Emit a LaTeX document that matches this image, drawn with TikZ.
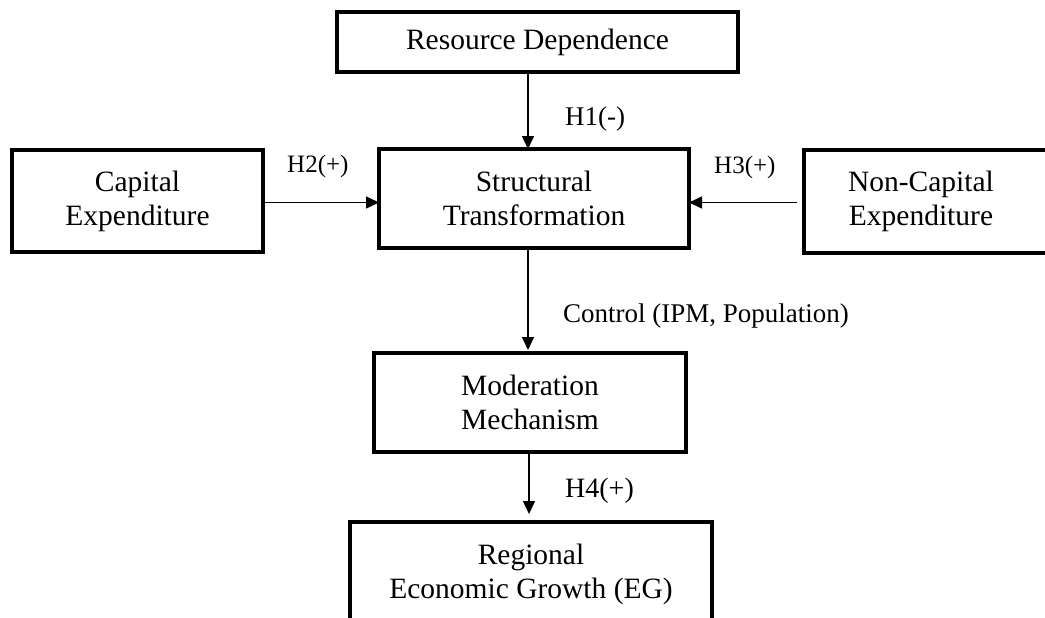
\documentclass[tikz,border=0pt]{standalone}
\usepackage{fontspec}
\setmainfont{Liberation Serif}
\usetikzlibrary{arrows.meta}
\begin{document}
\begin{tikzpicture}[x=1pt,y=-1pt,
  box/.style={draw, rectangle, line width=4.5pt, inner sep=0pt, outer sep=0pt,
    align=center, font=\fontsize{29.5}{34}\selectfont},
  boxtext/.style={inner sep=0pt, align=center, font=\fontsize{29.5}{34}\selectfont},
  lab/.style={anchor=base west, inner sep=0pt, font=\fontsize{27}{30}\selectfont},
  labsmall/.style={anchor=base west, inner sep=0pt, font=\fontsize{25}{28}\selectfont},
  arr/.style={line width=1.5pt, -{Triangle[length=13pt,width=12pt]}}]
\useasboundingbox (0,0) rectangle (1045,618);
% boxes
\node[box, minimum width=401pt, minimum height=60pt] (res) at (537.5,42) {Resource Dependence};
\node[box, minimum width=310pt, minimum height=99pt] (str) at (534,198.5) {Structural\\Transformation};
\node[box, minimum width=251pt, minimum height=102pt] (cap) at (137.5,201) {Capital\\Expenditure};
\node[box, minimum width=266pt, minimum height=103pt] (nonc) at (937,201.5) {};
\node[boxtext] (nonct) at (921,201.5) {Non-Capital\\Expenditure};
\node[box, minimum width=312pt, minimum height=99pt] (mod) at (530,402.5) {Moderation\\Mechanism};
\node[box, minimum width=362pt, minimum height=104pt] (reg) at (531,574) {Regional\\Economic Growth (EG)};
% guide coordinates
\coordinate (v1) at (528,0);
\coordinate (v2) at (529,0);
\coordinate (h1) at (0,202.5);
% connectors
\draw[arr] (res.south -| v1) -- (str.north -| v1);
\draw[arr] (cap.east |- h1) -- (str.west |- h1);
\draw[arr, shorten <=7pt] (nonc.west |- h1) -- (str.east |- h1);
\draw[arr, shorten >=3pt] (str.south -| v1) -- (mod.north -| v1);
\draw[arr, shorten >=8pt] (mod.south -| v2) -- (reg.north -| v2);
% labels
\node[lab] (l1) at (565,125) {H1(-)};
\node[labsmall] (l2) at (287,172) {H2(+)};
\node[labsmall] (l3) at (714,173) {H3(+)};
\node[lab] (lc) at (563,322) {Control (IPM, Population)};
\node[lab, font=\fontsize{28}{30}\selectfont] (l4) at (565,497) {H4(+)};
\end{tikzpicture}
\end{document}
